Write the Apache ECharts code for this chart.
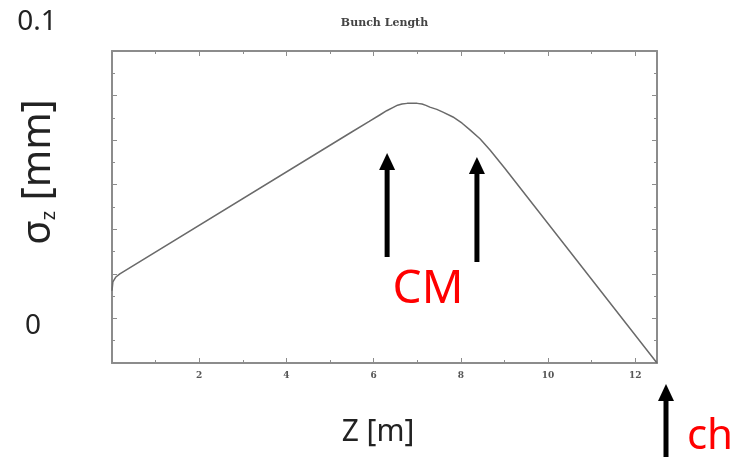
<!DOCTYPE html>
<html>
<head>
<meta charset="utf-8">
<script src="https://cdn.jsdelivr.net/npm/echarts@6/dist/echarts.min.js"></script>
<style>
  html, body { margin: 0; padding: 0; background: #fff; }
  #chart { width: 733px; height: 460px; }
</style>
</head>
<body>
<div id="chart"></div>
<script>
// bunch length along z (y in axis-tick units)
const zValues = [0, 0.02, 0.09, 0.18, 5.46, 5.9, 6.15, 6.3, 6.44, 6.55, 6.65, 6.77, 6.88, 7.0, 7.11, 7.2, 7.29, 7.45, 7.59, 7.82, 8.03, 8.21, 8.44, 8.67, 9.0, 12.5];
const sigmaValues = [1.62, 1.82, 1.93, 2.0, 5.16, 5.42, 5.57, 5.66, 5.73, 5.785, 5.81, 5.825, 5.83, 5.825, 5.81, 5.78, 5.74, 5.69, 5.63, 5.52, 5.38, 5.23, 5.03, 4.78, 4.38, 0];
const xTickLabels = ['2', '4', '6', '8', '10', '12'];
// positions (z) of the annotation arrows
const cmArrowZ = [6.31, 8.37];

const frameColor = '#8c8c8c';
const sansFont = '"Noto Sans", "Open Sans", sans-serif';

const chart = echarts.init(document.getElementById('chart'));

const boxAxis = (pos, show) => ({
  position: pos,
  axisLine: { show: true, onZero: false, lineStyle: { color: frameColor, width: 2 } },
  axisTick: { show: true, inside: true, length: 5, lineStyle: { color: frameColor, width: 1 } },
  minorTick: { show: true, splitNumber: 2, length: 3, lineStyle: { color: frameColor, width: 1 } },
  splitLine: { show: false },
  axisLabel: { show: show }
});

const option = {
  backgroundColor: '#fff',
  animation: false,
  grid: { left: 112, top: 51, width: 545, height: 312 },
  xAxis: [
    Object.assign(boxAxis('bottom', true), {
      type: 'value', min: 0, max: 12.5, interval: 2,
      axisLabel: {
        show: true, margin: 8, fontSize: 9, color: '#555',
        fontFamily: '"DejaVu Serif", serif', fontWeight: 'bold',
        formatter: v => (xTickLabels.indexOf(String(v)) >= 0 ? String(v) : '')
      }
    }),
    Object.assign(boxAxis('top', false), { type: 'value', min: 0, max: 12.5, interval: 2 })
  ],
  yAxis: [
    Object.assign(boxAxis('left', false), { type: 'value', min: 0, max: 7, interval: 1 }),
    Object.assign(boxAxis('right', false), { type: 'value', min: 0, max: 7, interval: 1 })
  ],
  series: [{
    type: 'line',
    xAxisIndex: 0,
    yAxisIndex: 0,
    showSymbol: false,
    smooth: false,
    lineStyle: { color: '#6a6a6a', width: 1.5 },
    data: zValues.map((z, i) => [z, sigmaValues[i]])
  }]
};

chart.setOption(option);

function arrow(x, yTip, yTail) {
  return {
    type: 'group',
    children: [
      { type: 'rect', shape: { x: x - 2.5, y: yTip + 14, width: 5, height: yTail - yTip - 14 }, style: { fill: '#000' } },
      { type: 'polygon', shape: { points: [[x, yTip], [x - 8, yTip + 17], [x + 8, yTip + 17]] }, style: { fill: '#000' } }
    ]
  };
}

const cmX = cmArrowZ.map(z => chart.convertToPixel({ xAxisIndex: 0 }, z));
const titleX = chart.convertToPixel({ xAxisIndex: 0 }, 12.5 / 2);

const bigText = (text, x, y, size, color, extra) => Object.assign({
  type: 'text', x: x, y: y,
  style: { text: text, fontSize: size, fontFamily: sansFont, fill: color, align: 'center', verticalAlign: 'middle' }
}, extra || {});

chart.setOption({
  graphic: [
    {
      type: 'text', x: titleX, y: 23,
      style: {
        text: 'Bunch Length', fontSize: 11, fontWeight: 'bold',
        fontFamily: '"DejaVu Serif", serif', fill: '#444', align: 'center', verticalAlign: 'middle'
      }
    },
    bigText('0.1', 37, 22, 28, '#222'),
    bigText('0', 33, 326, 28, '#222'),
    {
      type: 'text', x: 39, y: 172, rotation: Math.PI / 2,
      style: {
        text: '{s|σ}{z|z}{b| [mm]}',
        align: 'center', verticalAlign: 'middle', fill: '#222',
        rich: {
          s: { fontSize: 40, fontFamily: sansFont, fill: '#222' },
          z: { fontSize: 20, fontFamily: sansFont, fill: '#222', verticalAlign: 'bottom', padding: [14, 0, 0, 0] },
          b: { fontSize: 40, fontFamily: sansFont, fill: '#222' }
        }
      }
    },
    bigText('Z [m]', 378, 432, 30, '#222'),
    bigText('CM', 428, 290, 46, '#ff0000'),
    bigText('ch', 710, 437, 42, '#ff0000'),
    arrow(cmX[0], 153, 257),
    arrow(cmX[1], 157, 262),
    arrow(666, 384, 457)
  ]
});
</script>
</body>
</html>
